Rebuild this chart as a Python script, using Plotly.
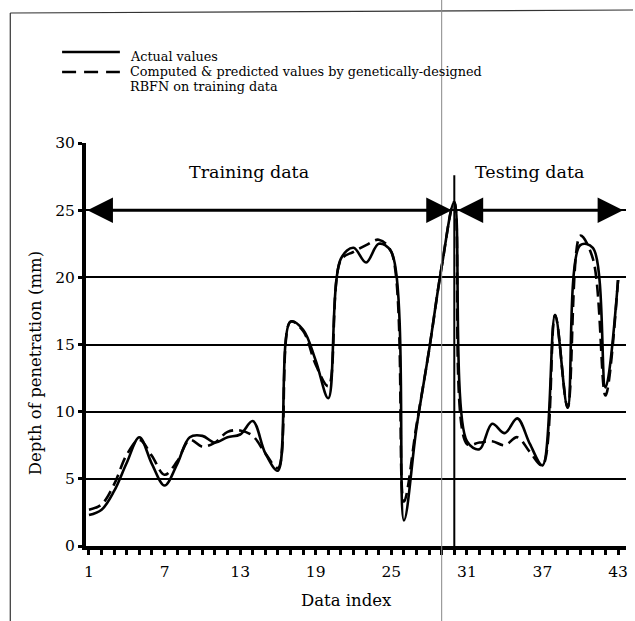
import plotly.graph_objects as go

# Depth of penetration, actual vs. RBFN output, per data index
data_index = list(range(1, 44))
actual_values = [
    2.3, 2.7, 4.1, 6.2, 8.1, 6.1, 4.5, 6.1, 8.1, 8.2,
    7.7, 8.1, 8.3, 9.3, 6.9, 5.6, 16.7, 16.1, 13.8, 11.0,
    21.4, 22.2, 21.1, 22.5, 21.9, 1.9, 8.8, 14.6, 20.8, 25.6,
    7.8, 7.2, 9.1, 8.4, 9.5, 7.6, 6.0, 17.2, 10.3, 22.4,
    22.2, 11.8, 19.8,
]
predicted_values = [
    2.7, 3.1, 4.6, 6.8, 7.9, 6.7, 5.3, 6.3, 7.9, 7.4,
    7.7, 8.5, 8.6, 8.2, 6.9, 5.8, 16.7, 16.0, 13.5, 11.9,
    21.3, 21.9, 22.4, 22.8, 21.9, 3.3, 9.0, 14.6, 20.8, 25.6,
    7.6, 7.7, 7.8, 7.5, 8.1, 7.0, 6.0, 17.2, 10.3, 23.1,
    21.4, 11.2, 19.8,
]
x_tick_labels = [1, 7, 13, 19, 25, 31, 37, 43]
y_tick_values = [0, 5, 10, 15, 20, 25, 30]

split_index = 30          # first testing sample
arrow_level = 25          # height of the range arrows
first_index, last_index = 1, 43

FONT = "DejaVu Serif"
W, H = 635, 621
L, R, T, B = 86, 7, 143, 75


def px_x(p):
    return (p - L) / (W - L - R)


def px_y(p):
    return (H - B - p) / (H - T - B)


fig = go.Figure()

fig.add_trace(go.Scatter(
    x=data_index, y=predicted_values, mode="lines",
    line=dict(color="black", width=2.6, dash="12px,6px", shape="spline", smoothing=1.0),
    name="Computed & predicted values", showlegend=False,
))
fig.add_trace(go.Scatter(
    x=data_index, y=actual_values, mode="lines",
    line=dict(color="black", width=2.6, shape="spline", smoothing=1.0),
    name="Actual values", showlegend=False,
))

# train / test divider
fig.add_shape(type="line", xref="x", yref="y",
              x0=split_index, x1=split_index, y0=0, y1=27.6,
              line=dict(color="black", width=2))

# range arrows
fig.add_annotation(x=split_index - 0.2, y=arrow_level, ax=first_index - 0.24, ay=arrow_level,
                   xref="x", yref="y", axref="x", ayref="y", text="",
                   showarrow=True, arrowhead=2, startarrowhead=2, arrowside="end+start",
                   arrowsize=1.7, startarrowsize=1.7, arrowwidth=3, arrowcolor="black")
fig.add_annotation(x=last_index + 0.4, y=arrow_level, ax=split_index + 0.15, ay=arrow_level,
                   xref="x", yref="y", axref="x", ayref="y", text="",
                   showarrow=True, arrowhead=2, startarrowhead=2, arrowside="end+start",
                   arrowsize=1.7, startarrowsize=1.7, arrowwidth=3, arrowcolor="black")

fig.add_annotation(x=13.7, y=27.85, xref="x", yref="y", text="Training data",
                   xanchor="center", yanchor="middle", showarrow=False,
                   font=dict(family=FONT, size=17.5, color="black"))
fig.add_annotation(x=36.0, y=27.85, xref="x", yref="y", text="Testing data",
                   xanchor="center", yanchor="middle", showarrow=False,
                   font=dict(family=FONT, size=17.5, color="black"))

# legend drawn by hand
fig.add_shape(type="line", xref="paper", yref="paper",
              x0=px_x(62), x1=px_x(120), y0=px_y(52), y1=px_y(52),
              line=dict(color="black", width=2.6))
fig.add_shape(type="line", xref="paper", yref="paper",
              x0=px_x(62), x1=px_x(120), y0=px_y(72), y1=px_y(72),
              line=dict(color="black", width=2.6, dash="14px,8px"))
legend_font = dict(family=FONT, size=12.8, color="black")
for txt, yy in [("Actual values", 56),
                ("Computed &amp; predicted values by genetically-designed", 71),
                ("RBFN on training data", 86)]:
    fig.add_annotation(x=px_x(128), y=px_y(yy), xref="paper", yref="paper",
                       xanchor="left", yanchor="middle", text=txt, showarrow=False,
                       font=legend_font)

# axis titles
fig.add_annotation(x=px_x(35), y=px_y(363), xref="paper", yref="paper",
                   xanchor="center", yanchor="middle",
                   text="Depth of penetration (mm)", textangle=-90, showarrow=False,
                   font=dict(family=FONT, size=16.5, color="black"))
fig.add_annotation(x=px_x(347), y=px_y(600), xref="paper", yref="paper",
                   xanchor="center", yanchor="middle",
                   text="Data index", showarrow=False,
                   font=dict(family=FONT, size=16.5, color="black"))

# page frame lines
fig.add_shape(type="line", xref="paper", yref="paper",
              x0=px_x(10), x1=px_x(10), y0=px_y(13), y1=px_y(621),
              line=dict(color="#333", width=1.2))
fig.add_shape(type="line", xref="paper", yref="paper",
              x0=px_x(10), x1=px_x(635), y0=px_y(13), y1=px_y(10),
              line=dict(color="#333", width=1.2))
fig.add_shape(type="line", xref="paper", yref="paper",
              x0=px_x(443), x1=px_x(443), y0=px_y(0), y1=px_y(621),
              line=dict(color="#888", width=1))

fig.update_xaxes(
    range=[0.763, 43.63],
    tickvals=data_index,
    ticktext=[str(i) if i in x_tick_labels else "" for i in data_index],
    ticks="outside", ticklen=5, tickwidth=3, tickcolor="black",
    ticklabelstandoff=3,
    showline=True, linewidth=4, linecolor="black",
    showgrid=False, zeroline=False,
    tickfont=dict(family=FONT, size=15.5, color="black"),
)
fig.update_yaxes(
    range=[0, 30],
    tickvals=y_tick_values,
    ticks="outside", ticklen=4, tickwidth=3, tickcolor="black",
    showline=True, linewidth=4, linecolor="black",
    showgrid=True, gridcolor="black", gridwidth=2,
    zeroline=False,
    tickfont=dict(family=FONT, size=15.5, color="black"),
)

fig.update_layout(
    width=W, height=H,
    margin=dict(l=L, r=R, t=T, b=B),
    paper_bgcolor="white", plot_bgcolor="white",
    showlegend=False,
)

fig.write_html("out.html")
